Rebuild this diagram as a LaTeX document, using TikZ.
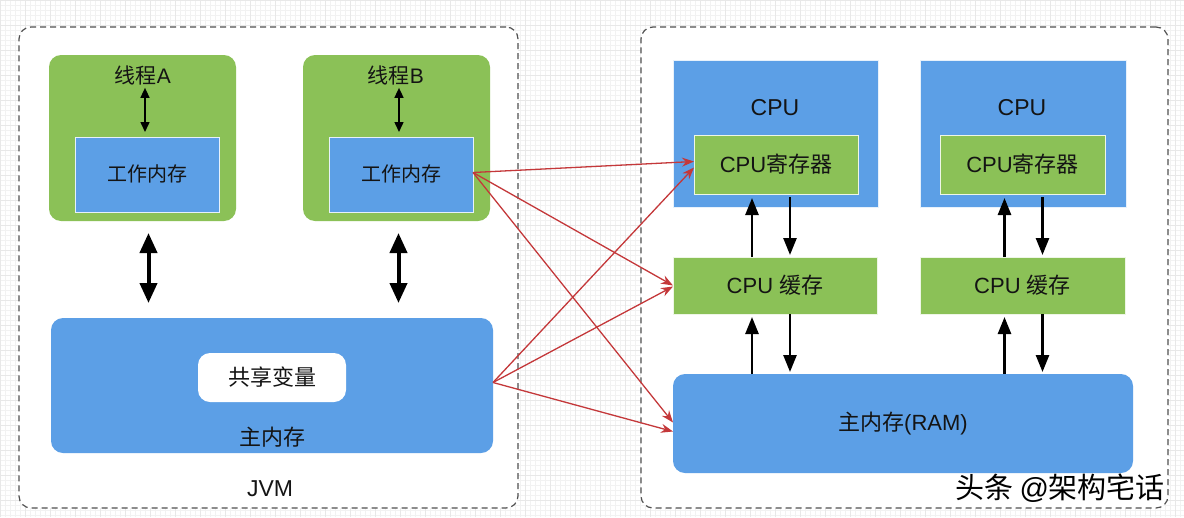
\documentclass[tikz,border=0pt]{standalone}
\usepackage{fontspec}
\setmainfont{Noto Sans CJK SC}
\newfontfamily\lat{Liberation Sans}
\usetikzlibrary{arrows.meta,calc}
\definecolor{gr}{RGB}{139,193,87}
\definecolor{bl}{RGB}{92,159,230}
\definecolor{rd}{RGB}{196,56,58}
\definecolor{dashc}{RGB}{80,80,80}
\definecolor{gridc}{RGB}{242,242,242}
\definecolor{gridm}{RGB}{232,232,232}
\definecolor{txtc}{RGB}{20,20,20}
\tikzset{
  box/.style={anchor=north west, inner sep=0pt, outer sep=0pt},
  frame/.style={box, draw=dashc, dash pattern=on 6pt off 4pt, line width=1.2pt, fill=white, rounded corners=12pt},
  greenround/.style={box, fill=gr, rounded corners=12pt},
  blueround/.style={box, fill=bl, rounded corners=12pt},
  bluerect/.style={box, fill=bl, draw=white!85!bl, line width=0.8pt},
  greenrect/.style={box, fill=gr, draw=white!85!gr, line width=0.8pt},
  whiteround/.style={box, fill=white, rounded corners=12pt},
  txt/.style={inner sep=0pt, text=txtc, font=\fontsize{23}{27}\selectfont},
  smallarrow/.style={line width=1.5pt, {Triangle[length=10pt,width=9pt]}-{Triangle[length=10pt,width=9pt]}},
  bigarrow/.style={line width=4pt, {Triangle[length=20pt,width=17pt]}-{Triangle[length=20pt,width=17pt]}},
  cpuarrow/.style={line width=2.6pt, -{Triangle[length=17pt,width=13pt]}},
  redarrow/.style={draw=rd, line width=1.3pt, -{Stealth[length=12pt,width=9pt]}},
}
\begin{document}
\begin{tikzpicture}[x=1pt,y=1pt]
\useasboundingbox (0,0) rectangle (1184,-517);
\fill[white] (0,0) rectangle (1184,-517);
\draw[gridc, line width=0.3pt] (0,0) grid[step=5] (1184,-517);
\draw[gridm, line width=0.4pt] (0,0) grid[step=25] (1184,-517);
% frames
\node[frame, minimum width=499, minimum height=481] (jvm) at (19,-27) {};
\node[frame, minimum width=527, minimum height=481] (hw) at (641,-27) {};
% JVM side
\node[greenround, minimum width=187, minimum height=166] (thA) at (49,-55) {};
\node[greenround, minimum width=187, minimum height=166] (thB) at (303,-55) {};
\node[txt, font=\fontsize{21}{25}\selectfont] (tA) at (143,-75) {线程{\lat A}};
\node[txt, font=\fontsize{21}{25}\selectfont] (tB) at (396,-75) {线程{\lat B}};
\node[bluerect, minimum width=144, minimum height=75, font=\fontsize{20}{24}\selectfont, text=txtc] (wmA) at (75,-137) {\raisebox{3pt}{工作内存}};
\node[bluerect, minimum width=144, minimum height=75, font=\fontsize{20}{24}\selectfont, text=txtc] (wmB) at (329,-137) {\raisebox{3pt}{工作内存}};
\node[blueround, minimum width=442, minimum height=135] (mm) at (51,-318) {};
\node[whiteround, minimum width=148, minimum height=49, font=\fontsize{22}{26}\selectfont, text=txtc] (sv) at (198,-353) {共享变量};
\node[txt, font=\fontsize{22}{26}\selectfont] (mmt) at (272,-437) {主内存};
\node[txt] (jvmt) at (270,-489) {\lat JVM};
% hardware side
\node[bluerect, minimum width=205, minimum height=147] (cpu1) at (673,-60) {};
\node[bluerect, minimum width=206, minimum height=147] (cpu2) at (920,-60) {};
\node[txt] (c1t) at (775,-108) {\lat CPU};
\node[txt] (c2t) at (1022,-108) {\lat CPU};
\node[greenrect, minimum width=164, minimum height=59, font=\fontsize{22}{26}\selectfont, text=txtc] (reg1) at (694,-135) {{\lat CPU}寄存器};
\node[greenrect, minimum width=165, minimum height=59, font=\fontsize{22}{26}\selectfont, text=txtc] (reg2) at (940,-135) {{\lat CPU}寄存器};
\node[greenrect, minimum width=204, minimum height=57, font=\fontsize{22}{26}\selectfont, text=txtc] (cache1) at (673,-257) {{\lat CPU }缓存};
\node[greenrect, minimum width=205, minimum height=57, font=\fontsize{22}{26}\selectfont, text=txtc] (cache2) at (920,-257) {{\lat CPU }缓存};
\node[blueround, minimum width=460, minimum height=99, font=\fontsize{22}{26}\selectfont, text=txtc] (ram) at (673,-374) {主内存{\lat (RAM)}};
% watermark
\node[txt, font=\fontsize{29}{33}\selectfont, text=black] (wm) at (1060,-488) {头条 {\lat @}架构宅话};
% arrows in threads
\draw[smallarrow, shorten <=3pt, shorten >=5pt] ([xshift=2pt]tA.south) -- ([xshift=2pt]tA.south |- wmA.north);
\draw[smallarrow, shorten <=3pt, shorten >=5pt] ([xshift=3pt]tB.south) -- ([xshift=3pt]tB.south |- wmB.north);
% big arrows
\draw[bigarrow, shorten <=12pt, shorten >=15pt] ([xshift=6pt]thA.south) -- ([xshift=6pt]thA.south |- mm.north);
\draw[bigarrow, shorten <=12pt, shorten >=15pt] ([xshift=2pt]thB.south) -- ([xshift=2pt]thB.south |- mm.north);
% cpu arrows
\draw[cpuarrow, shorten >=4pt] ([xshift=-23pt]cache1.north) -- ([xshift=-23pt]cache1.north |- reg1.south);
\draw[cpuarrow, shorten <=3pt, shorten >=2pt] ([xshift=14pt]reg1.south) -- ([xshift=14pt]reg1.south |- cache1.north);
\draw[cpuarrow, shorten >=3pt] ([xshift=-23pt]cache1.south |- ram.north) -- ([xshift=-23pt]cache1.south);
\draw[cpuarrow, shorten >=2pt] ([xshift=15pt]cache1.south) -- ([xshift=15pt]cache1.south |- ram.north);
\draw[cpuarrow, shorten >=4pt] ([xshift=-18pt]cache2.north) -- ([xshift=-18pt]cache2.north |- reg2.south);
\draw[cpuarrow, shorten <=3pt, shorten >=2pt] ([xshift=20pt]reg2.south) -- ([xshift=20pt]reg2.south |- cache2.north);
\draw[cpuarrow, shorten >=3pt] ([xshift=-18pt]cache2.south |- ram.north) -- ([xshift=-18pt]cache2.south);
\draw[cpuarrow, shorten >=2pt] ([xshift=20pt]cache2.south) -- ([xshift=20pt]cache2.south |- ram.north);
% red arrows
\draw[redarrow] ([yshift=2pt]wmB.east) -- ([yshift=3pt]reg1.west);
\draw[redarrow] ([yshift=2pt]wmB.east) -- (cache1.west);
\draw[redarrow] ([yshift=2pt]wmB.east) -- ([yshift=1pt]ram.west);
\draw[redarrow] ([yshift=3pt]mm.east) -- ([yshift=-3pt]reg1.west);
\draw[redarrow] ([yshift=3pt]mm.east) -- ([yshift=-1pt]cache1.west);
\draw[redarrow] ([yshift=3pt]mm.east) -- ([yshift=-8pt]ram.west);
\end{tikzpicture}
\end{document}
